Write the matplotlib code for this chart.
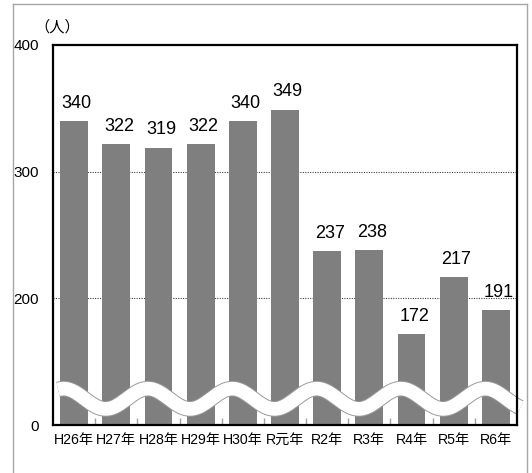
import numpy as np
import matplotlib
matplotlib.use("Agg")
import matplotlib.pyplot as plt
from matplotlib.lines import Line2D

plt.rcParams['font.family'] = ['Liberation Sans', 'Noto Sans CJK JP', 'DejaVu Sans']

# Data
years = ["H26年", "H27年", "H28年", "H29年", "H30年", "R元年",
         "R2年", "R3年", "R4年", "R5年", "R6年"]
counts = [340, 322, 319, 322, 340, 349, 237, 238, 172, 217, 191]
# broken value axis: the 0-100 band is cut out, so the bottom edge reads "0"
y_tick_pos = [100, 200, 300, 400]
y_tick_labels = ["0", "200", "300", "400"]
unit_label = "（人）"

fig = plt.figure(figsize=(5.32, 4.73), dpi=100)
ax = fig.add_axes([53 / 532, 1 - 425 / 473, (517 - 53) / 532, (425 - 45) / 473])

x = np.arange(len(years))
ax.bar(x, counts, width=0.66, color='#7f7f7f', zorder=2)

ax.set_xlim(-0.5, len(years) - 0.5)
ax.set_ylim(100, 400)
ax.set_yticks(y_tick_pos)
ax.set_yticklabels(y_tick_labels, fontsize=11)

# dotted gridlines at 200 and 300
for g in (200, 300):
    ax.axhline(g, color='#404040', lw=0.8, ls=(0, (1, 1.2)), zorder=1)

ax.tick_params(axis='y', direction='in', length=0, pad=10)
ax.set_xticks(x)
ax.set_xticklabels(years, fontsize=10.2)
ax.tick_params(axis='x', which='major', length=0, pad=6)
ax.set_xticks(np.arange(len(years) - 1) + 0.5, minor=True)
ax.tick_params(axis='x', which='minor', direction='in', length=5,
               color='#a0a0a0', width=1)

for s in ax.spines.values():
    s.set_linewidth(1.6)
    s.set_color('black')
    s.set_zorder(5)

# value labels above bars
for xi, v in zip(x, counts):
    ax.annotate(str(v), (xi, v), xytext=(2, 9.5), textcoords='offset points',
                ha='center', va='baseline', fontsize=13, zorder=4)

# wavy break band across the bottom of the bars
wx = np.linspace(-0.38, 10.58, 600)
wy = 0.069 + 0.0267 * np.cos(np.pi * (wx + 0.25))
tr = ax.get_xaxis_transform()
ax.plot(wx, wy, transform=tr, color='#9a9a9a', lw=11.2,
        solid_capstyle='butt', zorder=3, clip_on=False)
ax.plot(wx, wy, transform=tr, color='white', lw=9.8,
        solid_capstyle='butt', zorder=3.1, clip_on=False)

# unit label
fig.text(57 / 532, 1 - 27 / 473, unit_label, ha='center', va='center',
         fontsize=11)

# outer frame
for xs, ys in (([13, 13], [4, 480]), ([13, 527], [4, 4]), ([527, 527], [4, 480])):
    fig.add_artist(Line2D([v / 532 for v in xs], [1 - v / 473 for v in ys],
                          color='#a6a6a6', lw=1.0))

fig.savefig("out.png", dpi=100)
